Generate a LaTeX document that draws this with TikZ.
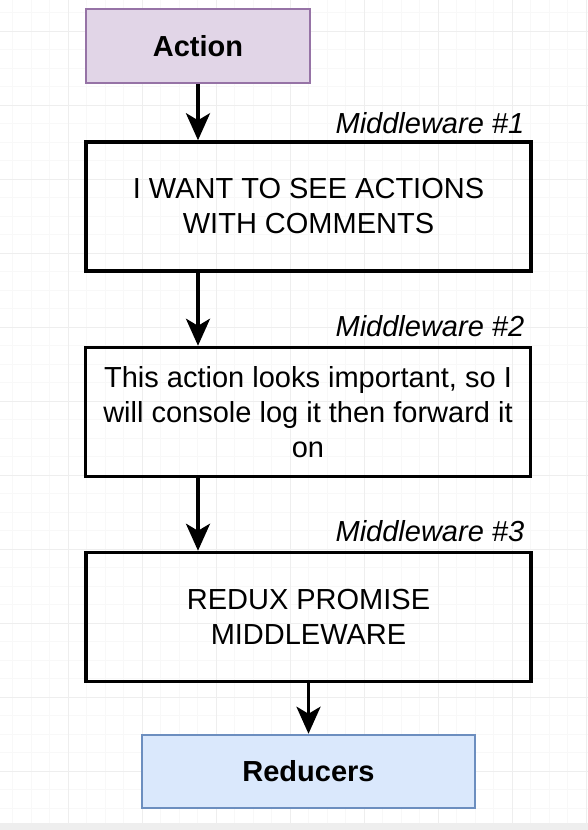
\documentclass[tikz,border=0pt]{standalone}
\usepackage{fontspec}
\setmainfont{Liberation Sans}
\usetikzlibrary{arrows.meta,positioning,backgrounds}
\definecolor{actFill}{HTML}{E1D5E7}
\definecolor{actLine}{HTML}{9673A6}
\definecolor{redFill}{HTML}{DAE8FC}
\definecolor{redLine}{HTML}{6C8EBF}
\definecolor{gridMinor}{HTML}{F8F8F8}
\definecolor{gridMajor}{HTML}{EEEEEE}
\definecolor{barGray}{HTML}{EEEEEE}
\tikzset{
	mwbox/.style={draw, line width=3.5pt, minimum width=445pt, minimum height=129pt, align=center, inner sep=0pt, font=\fontsize{29}{35}\selectfont},
	endbox/.style={draw, line width=2.5pt, font=\fontsize{29}{35}\selectfont\bfseries},
	mwlab/.style={anchor=base east, inner sep=0pt, font=\fontsize{29}{35}\selectfont\itshape},
}
\begin{document}
\begin{tikzpicture}[x=1pt, y=-1pt, ->, >={Stealth[length=27pt,width=24pt,inset=7pt]}, line width=3.5pt]
	\useasboundingbox (0,0) rectangle (588,830);
	% background grid
	\begin{scope}[-]
		\foreach \k in {0,...,44} {
			\draw[gridMinor, line width=0.8pt] (12.5+18.5*\k,0) -- (12.5+18.5*\k,823);
			\draw[gridMinor, line width=0.8pt] (0,12.5+18.5*\k) -- (588,12.5+18.5*\k);
		}
		\foreach \k in {0,...,7} \draw[gridMajor, line width=1pt] (68+74*\k,0) -- (68+74*\k,823);
		\foreach \k in {0,...,10} \draw[gridMajor, line width=1pt] (0,31+74*\k) -- (588,31+74*\k);
		\fill[barGray] (0,823) rectangle (588,830);
	\end{scope}
	\node[endbox, draw=actLine, fill=actFill, minimum width=224pt, minimum height=74pt] (act) at (198,46) {Action};
	\node[mwbox] (mw1) at (308.5,206.5) {I WANT TO SEE ACTIONS\\WITH COMMENTS};
	\node[mwbox] (mw2) at (308,412) {This action looks important, so I\\will console log it then forward it\\on};
	\node[mwbox] (mw3) at (308.5,617) {REDUX PROMISE\\MIDDLEWARE};
	\node[endbox, draw=redLine, fill=redFill, minimum width=333pt, minimum height=73pt] (red) at (308.5,771.5) {Reducers};
	\node[mwlab] (lab1) at (526,133) {Middleware \#1};
	\node[mwlab] (lab2) at (526,336) {Middleware \#2};
	\node[mwlab] (lab3) at (526,541) {Middleware \#3};
	\path (act) edge (act |- mw1.north);
	\path (mw1.south -| act) edge (mw2.north -| act);
	\path (mw2.south -| act) edge (mw3.north -| act);
	\path (mw3) edge (red);
\end{tikzpicture}
\end{document}
